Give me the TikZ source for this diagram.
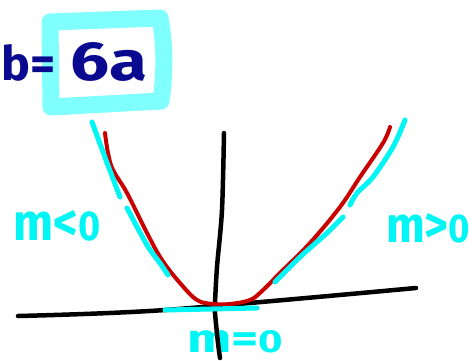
\documentclass[tikz,border=0pt]{standalone}
\usepackage{fontspec}
\setmainfont{Fira Sans}
\usepackage{graphicx}
\definecolor{ink}{RGB}{10,10,145}
\definecolor{cy}{RGB}{0,245,245}
\definecolor{boxcy}{RGB}{128,255,255}
\definecolor{rd}{RGB}{200,0,0}
\begin{document}
\begin{tikzpicture}[x=1pt,y=-1pt,line cap=round,line join=round,
  axis/.style={draw=black,line width=4.5pt},
  curve/.style={draw=rd,line width=4pt},
  tang/.style={draw=cy,line width=5pt},
  frame/.style={draw=boxcy,line width=17pt},
  lbl/.style={text=cy,inner sep=0pt,anchor=base west},
  ttl/.style={text=ink,inner sep=0pt,anchor=base west}]
\useasboundingbox (0,0) rectangle (472,360);
% highlighted box
\draw[frame] (51,107) -- (50,22) -- (160,18) .. controls (166,50) and (164,80) .. (161,101) -- cycle;
\node[ttl] (title) at (1,80) {\bfseries\resizebox{54pt}{36pt}{b=}\hspace{15pt}\resizebox{77pt}{38pt}{6a}};
% label under the axis
\node[lbl] (mzero) at (187,352) {\resizebox{96pt}{22pt}{\bfseries m=\scalebox{0.8}{0}}};
% axes
\draw[axis] plot[smooth] coordinates {(224,133) (222,210) (217,267) (215,303) (215,313) (218,343) (220,358)};
\draw[axis] plot[smooth] coordinates {(18,316) (165,310) (416,288)};
% parabola
\draw[curve] plot[smooth,tension=0.6] coordinates {(105,133) (108,153) (113,170) (127,193) (147,233) (162,260) (180,283) (197,300) (213,304) (230,304) (250,300) (262,291) (280,273) (310,243) (340,207) (360,177) (383,143) (390,127)};
% tangents
\draw[tang] plot[smooth] coordinates {(92,122) (106,160) (120,197)};
\draw[tang] plot[smooth] coordinates {(127,208) (147,245) (160,263) (168,275)};
\draw[tang] plot[smooth] coordinates {(405,120) (393,147) (373,177) (357,193) (350,205)};
\draw[tang] plot[smooth] coordinates {(343,217) (327,233) (300,257) (275,282)};
\draw[tang] (165,310) -- (257,308);
% labels
\node[lbl] (mneg) at (13,240) {\resizebox{87pt}{30pt}{\bfseries m<\scalebox{0.8}{0}}};
\node[lbl] (mpos) at (386,242) {\resizebox{84pt}{29pt}{\bfseries m>\scalebox{0.8}{0}}};
\end{tikzpicture}
\end{document}
